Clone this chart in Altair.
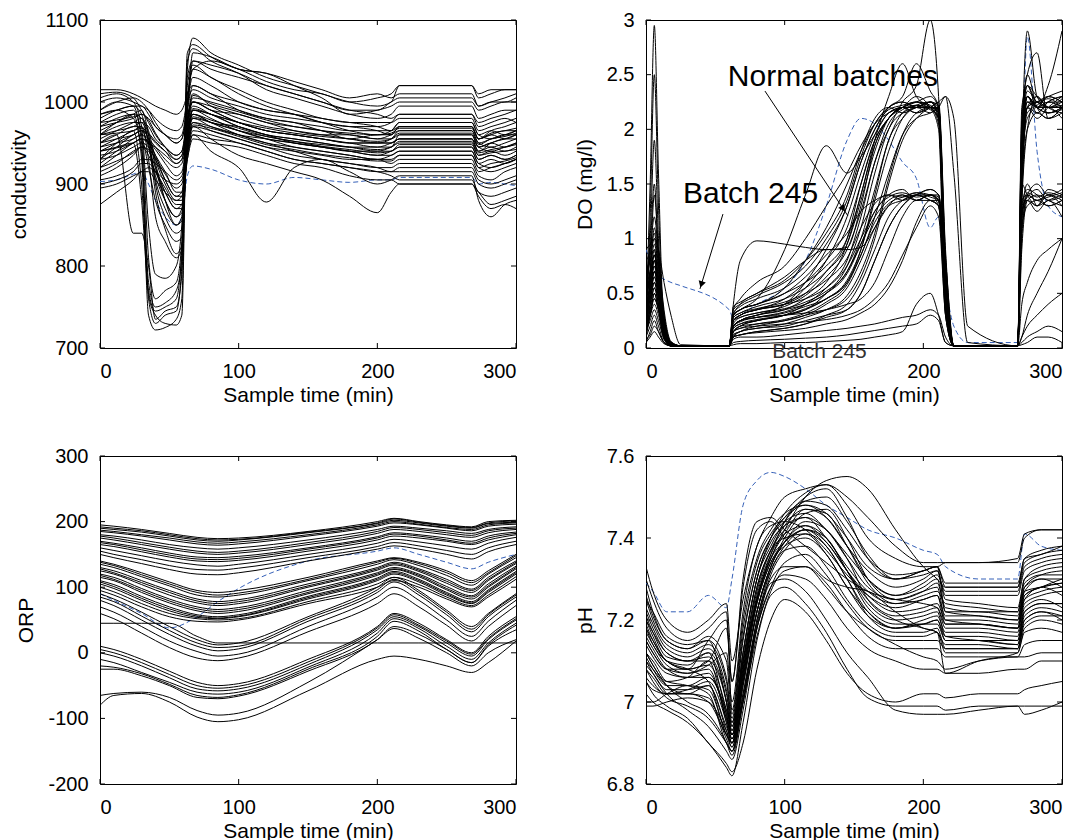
import altair as alt
import pandas as pd

FONT = "Liberation Sans"
PW, PH = 416, 328
X_TICKS = [0, 100, 200, 300]

# ---------------- conductivity ----------------
COND_T = [0, 12, 24, 30, 35, 40, 47, 55, 59, 63, 67, 80, 100, 120, 140, 160, 180, 200, 210, 216, 268, 273, 282, 292, 300]
COND_CURVES = [
    [960, 975, 985, 930, 740, 722, 725, 735, 760, 1040, 1078, 1060, 1045, 1030, 1020, 1010, 1000, 995, 1000, 1020, 1020, 1005, 1010, 1015, 1015],
    [990, 1000, 995, 950, 760, 730, 740, 745, 800, 1060, 1070, 1055, 1040, 1035, 1025, 1015, 1005, 1010, 1005, 1010, 1010, 995, 1000, 1005, 1010],
    [930, 950, 965, 900, 770, 745, 750, 760, 820, 1030, 1050, 1040, 1030, 1020, 1010, 1000, 990, 985, 980, 985, 985, 970, 975, 980, 975],
    [950, 960, 840, 840, 800, 735, 745, 750, 790, 1000, 1040, 1030, 1010, 995, 985, 975, 970, 965, 960, 970, 970, 955, 960, 955, 960],
    [975, 985, 990, 960, 810, 760, 770, 780, 830, 1010, 1020, 1010, 990, 980, 975, 965, 960, 955, 955, 960, 960, 945, 950, 945, 950],
    [1005, 1010, 1000, 970, 850, 790, 785, 800, 850, 990, 1030, 1020, 1000, 990, 985, 975, 965, 960, 965, 975, 975, 960, 955, 960, 965],
    [945, 955, 965, 970, 930, 860, 830, 810, 820, 960, 1000, 990, 975, 965, 960, 955, 950, 945, 950, 955, 955, 940, 945, 940, 945],
    [920, 935, 950, 955, 920, 880, 850, 830, 835, 950, 990, 985, 970, 960, 950, 945, 940, 935, 935, 940, 940, 925, 930, 925, 930],
    [965, 975, 985, 990, 960, 900, 860, 840, 845, 970, 1010, 995, 980, 970, 965, 960, 955, 950, 955, 965, 965, 950, 945, 950, 955],
    [940, 950, 960, 965, 945, 910, 880, 860, 870, 960, 980, 975, 965, 955, 945, 940, 935, 930, 930, 935, 935, 920, 915, 920, 925],
    [910, 920, 935, 945, 940, 920, 890, 870, 875, 945, 975, 970, 960, 950, 940, 930, 925, 920, 920, 925, 925, 910, 905, 915, 920],
    [980, 990, 995, 985, 950, 905, 870, 850, 860, 980, 1000, 990, 985, 975, 970, 965, 955, 960, 960, 970, 970, 955, 965, 970, 975],
    [955, 965, 975, 980, 965, 930, 900, 880, 880, 955, 990, 980, 965, 955, 950, 945, 940, 940, 945, 950, 950, 935, 940, 935, 940],
    [925, 940, 955, 960, 950, 935, 915, 890, 890, 940, 970, 965, 955, 945, 935, 930, 925, 920, 915, 920, 920, 905, 900, 905, 910],
    [900, 905, 915, 925, 925, 915, 895, 875, 875, 935, 960, 955, 950, 940, 930, 925, 920, 915, 910, 905, 905, 890, 885, 890, 895],
    [875, 890, 905, 915, 915, 905, 890, 880, 885, 930, 955, 950, 945, 935, 925, 920, 910, 905, 905, 900, 900, 885, 870, 875, 870],
    [1015, 1015, 1010, 1005, 1000, 995, 990, 985, 990, 1010, 1040, 1050, 1040, 1025, 1015, 1010, 1000, 1005, 1010, 1020, 1020, 1010, 1015, 1015, 1015],
    [985, 990, 995, 995, 985, 970, 960, 950, 955, 990, 1020, 1010, 1000, 990, 985, 980, 975, 975, 975, 980, 980, 965, 970, 975, 980],
    [960, 965, 970, 975, 970, 955, 945, 935, 940, 975, 1005, 1000, 990, 980, 975, 970, 965, 965, 965, 970, 970, 955, 960, 965, 965],
    [935, 940, 950, 955, 950, 945, 935, 925, 930, 960, 990, 985, 975, 965, 960, 955, 950, 950, 950, 955, 955, 945, 940, 945, 950],
    [950, 955, 960, 965, 960, 950, 940, 930, 935, 965, 985, 975, 970, 960, 955, 950, 945, 945, 945, 960, 960, 945, 950, 955, 955],
    [905, 910, 920, 930, 930, 925, 915, 905, 910, 950, 975, 965, 955, 945, 940, 935, 930, 930, 925, 930, 930, 915, 920, 925, 930],
    [895, 900, 910, 915, 920, 915, 905, 900, 905, 940, 965, 960, 950, 940, 930, 925, 920, 915, 915, 915, 915, 900, 895, 900, 905],
    [970, 975, 980, 985, 980, 970, 960, 950, 955, 985, 1000, 995, 985, 975, 965, 960, 960, 955, 960, 965, 965, 950, 955, 960, 960],
    [1000, 1005, 1000, 995, 990, 980, 970, 965, 970, 1000, 1015, 1005, 995, 985, 980, 975, 970, 970, 975, 985, 985, 975, 980, 985, 990],
    [945, 950, 955, 960, 955, 945, 930, 920, 925, 955, 980, 970, 960, 955, 950, 945, 940, 935, 940, 945, 945, 930, 935, 930, 935],
    [915, 925, 940, 945, 935, 915, 890, 870, 870, 930, 960, 940, 920, 878, 920, 930, 915, 900, 905, 910, 910, 880, 860, 875, 880],
    [930, 935, 945, 950, 945, 930, 905, 885, 885, 940, 970, 955, 935, 925, 915, 905, 885, 865, 890, 900, 900, 890, 875, 880, 885],
    [990, 1000, 1005, 1000, 990, 975, 960, 955, 960, 1000, 1060, 1055, 1040, 1035, 1020, 1005, 985, 990, 995, 1000, 1000, 990, 995, 1000, 1000],
    [1010, 1012, 1005, 990, 975, 960, 945, 935, 940, 990, 1050, 1045, 1035, 1020, 1010, 1000, 990, 990, 1000, 1005, 1005, 995, 1000, 1000, 1005],
    [985, 990, 980, 940, 780, 750, 755, 770, 810, 1050, 1065, 1050, 1035, 1015, 1005, 995, 985, 980, 985, 995, 995, 980, 985, 990, 990],
    [940, 945, 950, 880, 765, 740, 730, 728, 740, 1020, 1045, 1030, 1015, 1000, 990, 980, 975, 970, 965, 975, 975, 960, 965, 960, 965],
    [960, 970, 975, 975, 950, 890, 845, 815, 825, 965, 995, 985, 970, 960, 955, 950, 945, 940, 940, 945, 945, 930, 935, 930, 935],
    [930, 945, 960, 965, 955, 925, 880, 850, 855, 950, 985, 975, 960, 950, 945, 940, 935, 930, 935, 940, 940, 925, 920, 925, 930],
    [970, 980, 985, 980, 960, 920, 880, 860, 865, 975, 1000, 990, 975, 965, 960, 955, 950, 950, 950, 955, 955, 940, 950, 955, 960],
    [950, 960, 970, 970, 955, 935, 905, 885, 890, 960, 985, 978, 968, 958, 952, 948, 945, 942, 945, 952, 952, 938, 942, 945, 948],
    [960, 962, 965, 968, 962, 952, 940, 925, 930, 965, 992, 985, 975, 968, 962, 958, 955, 952, 955, 962, 962, 948, 955, 958, 962],
    [940, 944, 950, 955, 952, 942, 925, 910, 915, 955, 982, 975, 965, 958, 952, 946, 942, 938, 940, 948, 948, 935, 938, 940, 942],
    [975, 978, 982, 985, 978, 962, 945, 930, 935, 978, 1008, 998, 988, 978, 970, 965, 962, 960, 962, 968, 968, 955, 962, 965, 968],
    [920, 928, 938, 945, 942, 932, 912, 895, 900, 945, 972, 968, 958, 948, 942, 936, 932, 928, 928, 935, 935, 920, 925, 928, 932],
]
COND_245 = [903, 905, 912, 915, 900, 880, 860, 850, 860, 910, 922, 918, 905, 900, 908, 905, 902, 905, 905, 908, 908, 900, 902, 900, 898]
COND_TICKS = [700, 800, 900, 1000, 1100]

# ---------------- DO ----------------
DO_T = [0, 3, 6, 9, 13, 18, 25, 60, 63, 68, 80, 100, 115, 130, 145, 155, 165, 175, 185, 195, 205, 211, 216, 222, 232, 268, 271, 275, 282, 290, 300]
DO_CURVES = [
    [0.30, 1.50, 2.95, 1.60, 0.20, 0.03, 0.02, 0.02, 0.30, 0.35, 0.40, 0.55, 0.80, 1.10, 1.50, 1.80, 2.05, 2.20, 2.25, 2.20, 2.25, 2.10, 0.50, 0.02, 0.02, 0.02, 1.80, 2.90, 2.30, 2.20, 2.20],
    [0.20, 1.20, 2.50, 1.30, 0.15, 0.02, 0.02, 0.02, 0.25, 0.30, 0.35, 0.40, 0.55, 0.80, 1.20, 1.60, 1.95, 2.15, 2.20, 2.20, 2.25, 2.20, 0.40, 0.02, 0.02, 0.02, 2.00, 2.40, 2.30, 2.20, 2.15],
    [0.50, 1.00, 1.90, 1.00, 0.10, 0.02, 0.02, 0.02, 0.20, 0.25, 0.30, 0.35, 0.45, 0.60, 0.95, 1.40, 1.85, 2.10, 2.20, 2.20, 2.15, 2.20, 0.80, 0.02, 0.02, 0.02, 1.50, 2.20, 2.25, 2.30, 2.25],
    [0.40, 0.90, 1.50, 0.80, 0.10, 0.02, 0.02, 0.02, 0.15, 0.20, 0.25, 0.30, 0.35, 0.50, 0.75, 1.10, 1.60, 2.00, 2.15, 2.20, 2.25, 2.15, 0.60, 0.02, 0.02, 0.02, 1.90, 2.50, 2.20, 2.10, 2.20],
    [0.10, 0.70, 1.40, 0.90, 0.30, 0.05, 0.02, 0.02, 0.35, 0.45, 0.60, 0.75, 1.00, 1.30, 1.60, 1.85, 2.05, 2.15, 2.20, 2.25, 2.30, 2.20, 0.70, 0.02, 0.02, 0.02, 1.70, 2.30, 2.20, 2.25, 2.20],
    [0.60, 0.80, 1.00, 0.70, 0.25, 0.05, 0.02, 0.02, 0.40, 0.80, 0.98, 0.95, 0.92, 0.90, 0.92, 1.30, 1.85, 2.10, 2.20, 2.25, 2.20, 2.10, 0.50, 0.02, 0.02, 0.02, 1.60, 2.10, 2.20, 2.20, 2.10],
    [0.30, 0.60, 0.90, 0.60, 0.20, 0.03, 0.02, 0.02, 0.30, 0.35, 0.45, 0.90, 1.40, 1.85, 1.60, 1.75, 1.95, 2.15, 2.20, 2.15, 2.20, 2.25, 0.90, 0.02, 0.02, 0.02, 1.40, 2.00, 2.15, 2.10, 2.15],
    [0.20, 0.50, 0.80, 0.50, 0.15, 0.02, 0.02, 0.02, 0.20, 0.25, 0.30, 0.40, 0.60, 0.90, 1.30, 1.70, 2.00, 2.20, 2.30, 2.60, 2.35, 2.20, 0.60, 0.02, 0.02, 0.02, 2.20, 2.40, 2.20, 2.30, 2.25],
    [0.10, 0.40, 0.70, 0.50, 0.10, 0.02, 0.02, 0.02, 0.15, 0.20, 0.25, 0.30, 0.40, 0.55, 0.80, 1.20, 1.70, 2.00, 2.25, 2.40, 3.00, 2.30, 0.70, 0.02, 0.02, 0.02, 1.80, 2.30, 2.20, 2.40, 2.90],
    [0.70, 0.80, 0.90, 0.60, 0.20, 0.02, 0.02, 0.02, 0.25, 0.30, 0.35, 0.40, 0.50, 0.70, 1.00, 1.50, 1.90, 2.10, 2.20, 2.30, 2.20, 2.00, 0.30, 0.02, 0.02, 0.02, 1.50, 2.20, 2.10, 2.20, 2.30],
    [0.25, 0.45, 0.60, 0.45, 0.20, 0.04, 0.02, 0.02, 0.20, 0.25, 0.28, 0.32, 0.38, 0.45, 0.60, 0.90, 1.40, 1.90, 2.10, 2.20, 2.20, 2.15, 0.50, 0.02, 0.02, 0.02, 1.70, 2.25, 2.25, 2.15, 2.20],
    [0.15, 0.35, 0.55, 0.40, 0.15, 0.03, 0.02, 0.02, 0.10, 0.15, 0.20, 0.25, 0.30, 0.35, 0.45, 0.65, 1.00, 1.50, 1.90, 2.10, 2.20, 2.25, 2.30, 1.60, 0.05, 0.02, 1.30, 2.00, 2.30, 2.20, 2.20],
    [0.30, 0.50, 0.70, 0.50, 0.15, 0.02, 0.02, 0.02, 0.20, 0.25, 0.30, 0.35, 0.40, 0.50, 0.70, 0.95, 1.20, 1.35, 1.40, 1.35, 1.40, 1.35, 0.40, 0.02, 0.02, 0.02, 1.00, 1.40, 1.35, 1.40, 1.35],
    [0.20, 0.40, 0.60, 0.40, 0.10, 0.02, 0.02, 0.02, 0.15, 0.20, 0.22, 0.25, 0.30, 0.40, 0.55, 0.80, 1.10, 1.30, 1.35, 1.40, 1.35, 1.30, 0.30, 0.02, 0.02, 0.02, 1.20, 1.50, 1.30, 1.35, 1.40],
    [0.50, 0.60, 0.80, 0.55, 0.20, 0.03, 0.02, 0.02, 0.30, 0.35, 0.40, 0.50, 0.65, 0.85, 1.05, 1.25, 1.35, 1.40, 1.35, 1.40, 1.45, 1.40, 0.50, 0.02, 0.02, 0.02, 1.30, 1.45, 1.40, 1.30, 1.35],
    [0.10, 0.30, 0.50, 0.35, 0.10, 0.02, 0.02, 0.02, 0.10, 0.12, 0.15, 0.18, 0.22, 0.30, 0.40, 0.60, 0.90, 1.20, 1.35, 1.40, 1.35, 1.30, 0.60, 0.02, 0.02, 0.02, 0.90, 1.35, 1.40, 1.35, 1.30],
    [0.35, 0.55, 0.75, 0.50, 0.15, 0.02, 0.02, 0.02, 0.25, 0.30, 0.35, 0.40, 0.45, 0.55, 0.75, 1.00, 1.25, 1.40, 1.45, 1.35, 1.40, 1.40, 0.70, 0.02, 0.02, 0.02, 1.50, 1.40, 1.30, 1.45, 1.40],
    [0.45, 0.65, 0.85, 0.60, 0.20, 0.03, 0.02, 0.02, 0.30, 0.40, 0.50, 0.65, 0.80, 0.90, 0.90, 0.92, 1.10, 1.30, 1.40, 1.35, 1.40, 1.35, 0.40, 0.02, 0.02, 0.02, 1.10, 1.35, 1.25, 1.35, 1.20],
    [0.15, 0.30, 0.45, 0.35, 0.10, 0.02, 0.02, 0.02, 0.12, 0.15, 0.18, 0.20, 0.25, 0.30, 0.35, 0.50, 0.80, 1.10, 1.30, 1.40, 1.45, 1.40, 0.80, 0.02, 0.02, 0.02, 1.20, 1.40, 1.50, 1.40, 1.45],
    [0.10, 0.20, 0.30, 0.20, 0.05, 0.02, 0.02, 0.02, 0.08, 0.10, 0.10, 0.12, 0.14, 0.16, 0.18, 0.20, 0.22, 0.25, 0.28, 0.30, 0.35, 0.30, 0.10, 0.02, 0.02, 0.02, 0.10, 0.20, 0.30, 0.40, 0.50],
    [0.05, 0.15, 0.25, 0.15, 0.05, 0.02, 0.02, 0.02, 0.05, 0.06, 0.07, 0.08, 0.09, 0.10, 0.12, 0.14, 0.16, 0.18, 0.20, 0.22, 0.30, 0.25, 0.05, 0.02, 0.02, 0.02, 0.05, 0.10, 0.15, 0.20, 0.15],
    [0.20, 0.30, 0.40, 0.30, 0.08, 0.02, 0.02, 0.02, 0.15, 0.18, 0.20, 0.22, 0.24, 0.26, 0.30, 0.35, 0.45, 0.60, 0.85, 1.10, 1.30, 1.20, 0.30, 0.02, 0.02, 0.02, 0.40, 0.60, 0.80, 0.90, 1.00],
    [0.08, 0.12, 0.20, 0.15, 0.05, 0.02, 0.02, 0.02, 0.03, 0.04, 0.04, 0.05, 0.05, 0.06, 0.07, 0.08, 0.10, 0.12, 0.15, 0.40, 0.50, 0.30, 0.05, 0.02, 0.02, 0.02, 0.03, 0.05, 0.10, 0.10, 0.05],
    [0.35, 0.55, 0.75, 0.55, 0.20, 0.03, 0.02, 0.02, 0.30, 0.35, 0.40, 0.50, 0.60, 0.75, 1.00, 1.40, 1.90, 2.30, 2.60, 2.30, 2.20, 2.10, 0.70, 0.02, 0.02, 0.02, 1.90, 2.40, 2.25, 2.30, 2.35],
    [0.90, 0.95, 1.00, 0.90, 0.60, 0.30, 0.03, 0.02, 0.25, 0.30, 0.35, 0.45, 0.60, 0.80, 1.10, 1.50, 1.90, 2.10, 2.20, 2.15, 2.20, 2.15, 0.60, 0.02, 0.02, 0.02, 1.40, 2.20, 2.15, 2.25, 2.30],
    [0.25, 0.40, 0.55, 0.40, 0.15, 0.03, 0.02, 0.02, 0.18, 0.22, 0.25, 0.30, 0.35, 0.45, 0.60, 0.85, 1.20, 1.60, 1.95, 2.10, 2.15, 2.20, 2.30, 2.10, 0.20, 0.02, 1.60, 2.30, 2.20, 2.15, 2.20],
    [0.15, 0.25, 0.35, 0.25, 0.08, 0.02, 0.02, 0.02, 0.20, 0.25, 0.28, 0.30, 0.32, 0.35, 0.40, 0.45, 0.60, 0.90, 1.20, 1.35, 1.35, 1.30, 0.50, 0.02, 0.02, 0.02, 1.30, 1.35, 1.30, 1.40, 1.30],
    [0.55, 0.70, 0.85, 0.65, 0.25, 0.04, 0.02, 0.02, 0.35, 0.40, 0.48, 0.60, 0.75, 1.00, 1.35, 1.75, 2.05, 2.20, 2.25, 2.20, 2.20, 2.05, 0.40, 0.02, 0.02, 0.02, 1.80, 2.20, 2.30, 2.20, 2.25],
    [0.05, 0.10, 0.15, 0.10, 0.04, 0.02, 0.02, 0.02, 0.10, 0.12, 0.15, 0.18, 0.22, 0.28, 0.35, 0.50, 0.80, 1.10, 1.30, 1.40, 1.40, 1.30, 0.40, 0.02, 0.02, 0.02, 0.10, 0.30, 0.50, 0.70, 1.00],
    [0.40, 0.70, 1.10, 0.80, 0.30, 0.05, 0.02, 0.02, 0.28, 0.32, 0.38, 0.45, 0.55, 0.70, 0.95, 1.35, 1.80, 2.10, 2.20, 2.25, 2.20, 2.20, 0.60, 0.02, 0.02, 0.02, 2.10, 2.50, 2.70, 2.10, 2.20],
    [0.65, 0.85, 1.05, 0.75, 0.30, 0.05, 0.02, 0.02, 0.32, 0.38, 0.45, 0.55, 0.70, 0.95, 1.30, 1.70, 2.00, 2.18, 2.22, 2.25, 2.22, 2.12, 0.55, 0.02, 0.02, 0.02, 1.75, 2.25, 2.20, 2.25, 2.25],
    [0.45, 0.70, 0.95, 0.70, 0.25, 0.04, 0.02, 0.02, 0.22, 0.28, 0.32, 0.38, 0.48, 0.65, 0.90, 1.25, 1.70, 2.05, 2.18, 2.22, 2.20, 2.18, 0.65, 0.02, 0.02, 0.02, 1.85, 2.35, 2.25, 2.20, 2.28],
    [0.35, 0.60, 0.85, 0.60, 0.20, 0.03, 0.02, 0.02, 0.20, 0.24, 0.28, 0.33, 0.40, 0.50, 0.68, 0.95, 1.25, 1.38, 1.42, 1.38, 1.40, 1.38, 0.45, 0.02, 0.02, 0.02, 1.15, 1.42, 1.38, 1.42, 1.38],
    [0.25, 0.45, 0.65, 0.45, 0.12, 0.02, 0.02, 0.02, 0.15, 0.18, 0.22, 0.26, 0.32, 0.42, 0.58, 0.85, 1.15, 1.32, 1.38, 1.42, 1.38, 1.35, 0.55, 0.02, 0.02, 0.02, 1.25, 1.38, 1.45, 1.35, 1.38],
    [0.80, 0.90, 1.20, 0.85, 0.35, 0.06, 0.02, 0.02, 0.38, 0.42, 0.50, 0.62, 0.80, 1.05, 1.40, 1.80, 2.10, 2.20, 2.15, 2.20, 2.25, 2.15, 0.45, 0.02, 0.02, 0.02, 1.95, 2.30, 2.20, 2.15, 2.18],
    [0.15, 0.30, 0.50, 0.35, 0.10, 0.02, 0.02, 0.02, 0.12, 0.15, 0.18, 0.22, 0.28, 0.35, 0.48, 0.70, 1.05, 1.55, 1.95, 2.15, 2.20, 2.20, 0.75, 0.02, 0.02, 0.02, 1.65, 2.20, 2.25, 2.20, 2.22],
    [0.50, 0.65, 0.80, 0.60, 0.22, 0.03, 0.02, 0.02, 0.28, 0.32, 0.36, 0.42, 0.50, 0.62, 0.82, 1.10, 1.32, 1.40, 1.38, 1.42, 1.40, 1.36, 0.35, 0.02, 0.02, 0.02, 1.35, 1.40, 1.35, 1.38, 1.42],
    [0.30, 0.50, 0.65, 0.50, 0.18, 0.03, 0.02, 0.02, 0.18, 0.22, 0.26, 0.30, 0.36, 0.45, 0.62, 0.90, 1.35, 1.80, 2.10, 2.22, 2.25, 2.22, 0.85, 0.02, 0.02, 0.02, 1.55, 2.15, 2.22, 2.28, 2.20],
    [0.20, 0.35, 0.45, 0.35, 0.12, 0.02, 0.02, 0.02, 0.10, 0.12, 0.14, 0.16, 0.18, 0.22, 0.26, 0.32, 0.40, 0.55, 0.80, 1.15, 1.35, 1.35, 0.65, 0.02, 0.02, 0.02, 1.10, 1.30, 1.35, 1.30, 1.35],
    [0.40, 0.55, 0.70, 0.55, 0.20, 0.03, 0.02, 0.02, 0.25, 0.28, 0.32, 0.36, 0.42, 0.52, 0.70, 1.00, 1.45, 1.90, 2.15, 2.22, 2.18, 2.10, 0.50, 0.02, 0.02, 0.02, 2.05, 2.30, 2.15, 2.25, 2.30],
]
DO_245 = [0.90, 0.80, 0.70, 0.66, 0.63, 0.60, 0.57, 0.35, 0.27, 0.30, 0.40, 0.55, 0.80, 1.30, 1.90, 2.10, 2.05, 1.90, 1.70, 1.55, 1.10, 1.20, 0.60, 0.20, 0.05, 0.05, 1.50, 2.85, 1.80, 1.30, 1.20]
DO_TICKS = [0, 0.5, 1, 1.5, 2, 2.5, 3]

# annotations of the DO panel
DO_LABELS = ["Normal batches", "Batch 245", "Batch 245"]
DO_LABEL_T = [59, 26.7, 91]
DO_LABEL_V = [2.40, 1.33, -0.09]
DO_LABEL_SIZE = [30, 30, 21]
DO_LABEL_COLOR = ["black", "black", "#333333"]
ARROW_T0 = [85.8, 55.5]
ARROW_V0 = [2.35, 1.225]
ARROW_T1 = [145.7, 38.9]
ARROW_V1 = [1.207, 0.54]
ARROW_ANGLE = [146, 197]

# ---------------- ORP ----------------
ORP_T = [0, 10, 30, 50, 70, 85, 100, 150, 200, 212, 230, 250, 268, 280, 300]
ORP_CURVES = [
    [195, 193, 188, 182, 176, 174, 175, 185, 200, 205, 200, 195, 192, 200, 202],
    [190, 188, 184, 178, 172, 170, 172, 183, 197, 202, 198, 193, 190, 197, 199],
    [185, 183, 178, 172, 166, 164, 166, 178, 193, 198, 195, 190, 186, 193, 196],
    [180, 178, 172, 165, 160, 158, 160, 172, 188, 193, 190, 186, 182, 188, 192],
    [175, 172, 165, 158, 152, 150, 152, 165, 182, 188, 185, 180, 176, 183, 188],
    [170, 167, 160, 152, 146, 145, 147, 160, 177, 183, 180, 175, 170, 178, 184],
    [165, 162, 154, 146, 140, 139, 141, 155, 172, 178, 175, 170, 165, 172, 180],
    [160, 156, 148, 140, 134, 132, 135, 150, 167, 173, 169, 163, 158, 167, 176],
    [155, 150, 142, 133, 127, 126, 129, 145, 162, 168, 163, 156, 150, 160, 170],
    [150, 145, 136, 127, 120, 119, 122, 140, 158, 163, 158, 150, 143, 154, 165],
    [140, 135, 122, 108, 95, 92, 95, 115, 140, 145, 138, 125, 110, 125, 150],
    [135, 130, 116, 102, 88, 85, 88, 110, 135, 142, 133, 118, 103, 120, 145],
    [130, 125, 110, 95, 82, 78, 81, 105, 130, 138, 128, 112, 97, 115, 140],
    [125, 120, 104, 88, 76, 72, 75, 100, 126, 134, 124, 106, 92, 110, 136],
    [120, 115, 98, 82, 70, 66, 69, 95, 122, 130, 120, 101, 87, 105, 132],
    [115, 110, 92, 76, 64, 60, 63, 90, 118, 127, 116, 96, 82, 100, 128],
    [110, 104, 86, 70, 58, 55, 58, 86, 114, 124, 112, 92, 78, 96, 124],
    [105, 98, 80, 64, 54, 52, 55, 82, 110, 120, 108, 88, 75, 92, 120],
    [100, 93, 75, 60, 52, 50, 52, 78, 105, 115, 104, 85, 72, 88, 116],
    [95, 88, 70, 55, 48, 47, 50, 75, 100, 110, 100, 82, 70, 85, 112],
    [90, 82, 62, 40, 20, 12, 15, 55, 100, 115, 95, 65, 40, 60, 90],
    [80, 72, 50, 28, 10, 3, 6, 48, 92, 108, 88, 58, 32, 55, 85],
    [70, 62, 40, 18, 2, -5, -2, 40, 85, 100, 80, 50, 25, 48, 80],
    [60, 52, 30, 8, -8, -12, -8, 32, 75, 90, 70, 42, 18, 40, 72],
    [45, 45, 45, 45, 25, 15, 15, 15, 15, 15, 15, 15, 15, 15, 15],
    [10, 5, -10, -28, -45, -50, -47, -10, 40, 60, 45, 20, 0, 25, 55],
    [0, -5, -20, -38, -55, -58, -55, -18, 35, 55, 40, 15, -5, 20, 50],
    [-10, -15, -30, -45, -60, -63, -60, -22, 30, 52, 37, 10, -10, 15, 45],
    [-20, -22, -32, -48, -65, -68, -64, -25, 25, 48, 33, 5, -15, 12, 42],
    [-25, -25, -35, -50, -68, -70, -66, -28, 20, 40, 28, 5, -15, 10, 35],
    [-65, -62, -60, -68, -88, -95, -92, -45, 20, 37, 22, 0, -20, 0, 20],
    [-80, -65, -62, -75, -98, -105, -102, -58, -10, -5, -10, -20, -30, -15, 18],
    [192, 190, 186, 180, 174, 172, 173, 184, 198, 204, 199, 194, 191, 198, 201],
    [187, 185, 180, 175, 169, 167, 169, 180, 195, 200, 196, 191, 188, 195, 198],
    [178, 175, 168, 161, 155, 153, 155, 168, 185, 191, 188, 183, 179, 186, 190],
    [168, 165, 157, 149, 143, 142, 144, 158, 175, 181, 178, 172, 167, 175, 182],
    [138, 133, 119, 105, 92, 88, 91, 112, 138, 144, 136, 122, 107, 122, 148],
    [128, 122, 107, 92, 79, 75, 78, 102, 128, 136, 126, 109, 95, 112, 138],
    [118, 112, 95, 79, 67, 63, 66, 92, 120, 128, 118, 98, 85, 102, 130],
    [108, 101, 83, 67, 56, 53, 56, 84, 112, 122, 110, 90, 76, 94, 122],
    [85, 78, 56, 34, 15, 8, 10, 52, 96, 112, 92, 62, 36, 58, 88],
    [5, 0, -15, -33, -50, -54, -51, -14, 38, 58, 42, 18, -2, 22, 52],
]
ORP_245 = [90, 80, 60, 38, 55, 78, 98, 140, 155, 160, 150, 138, 128, 138, 150]
ORP_TICKS = [-200, -100, 0, 100, 200, 300]

# ---------------- pH ----------------
PH_T = [0, 5, 15, 30, 45, 58, 62, 70, 80, 90, 100, 115, 130, 145, 160, 180, 200, 210, 216, 240, 268, 273, 285, 300]
PH_CURVES = [
    [7.20, 7.17, 7.12, 7.10, 7.12, 6.98, 6.95, 7.10, 7.25, 7.35, 7.42, 7.50, 7.54, 7.55, 7.52, 7.42, 7.33, 7.30, 7.28, 7.28, 7.28, 7.35, 7.36, 7.38],
    [7.25, 7.22, 7.16, 7.14, 7.15, 7.00, 6.93, 7.12, 7.30, 7.40, 7.46, 7.51, 7.53, 7.48, 7.40, 7.35, 7.33, 7.33, 7.34, 7.34, 7.34, 7.40, 7.42, 7.42],
    [7.15, 7.12, 7.08, 7.08, 7.15, 7.20, 7.05, 7.30, 7.44, 7.45, 7.42, 7.38, 7.34, 7.30, 7.27, 7.25, 7.24, 7.23, 7.18, 7.18, 7.17, 7.25, 7.27, 7.28],
    [7.30, 7.25, 7.18, 7.15, 7.18, 7.22, 6.98, 7.20, 7.35, 7.42, 7.46, 7.48, 7.45, 7.38, 7.32, 7.28, 7.30, 7.32, 7.25, 7.24, 7.23, 7.30, 7.32, 7.33],
    [7.22, 7.18, 7.12, 7.10, 7.10, 6.95, 6.90, 7.08, 7.25, 7.36, 7.44, 7.50, 7.52, 7.45, 7.35, 7.30, 7.32, 7.33, 7.22, 7.21, 7.20, 7.28, 7.30, 7.30],
    [7.18, 7.15, 7.10, 7.08, 7.05, 6.92, 6.90, 7.05, 7.22, 7.33, 7.40, 7.46, 7.47, 7.40, 7.30, 7.25, 7.27, 7.28, 7.20, 7.19, 7.18, 7.25, 7.28, 7.26],
    [7.12, 7.10, 7.05, 7.04, 7.02, 6.90, 6.88, 7.02, 7.20, 7.32, 7.38, 7.42, 7.40, 7.32, 7.24, 7.20, 7.21, 7.22, 7.16, 7.15, 7.14, 7.22, 7.24, 7.24],
    [7.08, 7.06, 7.02, 7.02, 7.00, 6.92, 6.90, 7.04, 7.22, 7.33, 7.39, 7.44, 7.42, 7.35, 7.25, 7.20, 7.18, 7.17, 7.14, 7.14, 7.13, 7.20, 7.22, 7.20],
    [7.25, 7.20, 7.14, 7.12, 7.14, 7.05, 6.95, 7.15, 7.32, 7.40, 7.44, 7.46, 7.42, 7.36, 7.30, 7.26, 7.29, 7.31, 7.27, 7.27, 7.27, 7.33, 7.35, 7.36],
    [7.15, 7.12, 7.08, 7.07, 7.08, 6.96, 6.92, 7.08, 7.26, 7.36, 7.41, 7.43, 7.39, 7.32, 7.26, 7.22, 7.23, 7.24, 7.20, 7.20, 7.19, 7.27, 7.28, 7.29],
    [7.10, 7.08, 7.04, 7.02, 7.04, 6.94, 6.91, 7.06, 7.24, 7.34, 7.38, 7.40, 7.36, 7.28, 7.22, 7.18, 7.19, 7.19, 7.15, 7.15, 7.15, 7.23, 7.25, 7.23],
    [7.05, 7.03, 7.02, 7.03, 7.05, 6.95, 6.90, 7.05, 7.22, 7.32, 7.37, 7.38, 7.33, 7.25, 7.19, 7.16, 7.16, 7.17, 7.12, 7.12, 7.12, 7.18, 7.20, 7.19],
    [7.20, 7.16, 7.10, 7.09, 7.12, 7.02, 6.94, 7.12, 7.30, 7.39, 7.43, 7.45, 7.40, 7.33, 7.27, 7.24, 7.26, 7.27, 7.24, 7.23, 7.22, 7.30, 7.33, 7.34],
    [7.28, 7.22, 7.15, 7.13, 7.16, 7.10, 6.97, 7.18, 7.34, 7.41, 7.45, 7.48, 7.46, 7.40, 7.33, 7.30, 7.32, 7.33, 7.29, 7.29, 7.29, 7.35, 7.37, 7.38],
    [7.12, 7.09, 7.05, 7.06, 7.10, 7.00, 6.93, 7.10, 7.28, 7.37, 7.40, 7.41, 7.36, 7.28, 7.21, 7.18, 7.20, 7.21, 7.17, 7.17, 7.16, 7.24, 7.26, 7.27],
    [7.00, 7.00, 7.02, 7.04, 7.03, 6.92, 6.89, 7.02, 7.18, 7.28, 7.34, 7.36, 7.31, 7.24, 7.18, 7.15, 7.15, 7.15, 7.13, 7.13, 7.13, 7.20, 7.22, 7.21],
    [7.02, 7.00, 6.98, 6.95, 6.90, 6.84, 6.82, 6.95, 7.15, 7.26, 7.28, 7.24, 7.17, 7.08, 7.01, 6.99, 6.99, 6.99, 6.98, 6.99, 6.99, 6.99, 6.99, 6.99],
    [7.05, 7.02, 6.99, 6.96, 6.90, 6.85, 6.83, 6.90, 7.08, 7.20, 7.25, 7.22, 7.15, 7.07, 7.02, 7.00, 7.02, 7.02, 7.01, 7.02, 7.02, 7.03, 7.04, 7.05],
    [7.10, 7.07, 7.02, 6.98, 6.94, 6.88, 6.86, 6.98, 7.18, 7.29, 7.30, 7.27, 7.20, 7.12, 7.06, 6.98, 6.97, 6.97, 6.97, 6.98, 6.99, 6.97, 6.98, 7.00],
    [7.08, 7.05, 7.01, 6.99, 6.96, 6.90, 6.88, 7.00, 7.18, 7.28, 7.31, 7.30, 7.25, 7.18, 7.13, 7.10, 7.08, 7.08, 7.07, 7.07, 7.08, 7.08, 7.10, 7.10],
    [7.12, 7.09, 7.04, 7.00, 6.97, 6.90, 6.87, 7.00, 7.20, 7.30, 7.33, 7.33, 7.28, 7.22, 7.18, 7.14, 7.11, 7.10, 7.08, 7.10, 7.11, 7.11, 7.12, 7.12],
    [7.18, 7.14, 7.10, 7.08, 7.10, 7.18, 7.05, 7.28, 7.42, 7.44, 7.40, 7.35, 7.30, 7.28, 7.27, 7.22, 7.18, 7.17, 7.07, 7.10, 7.12, 7.17, 7.18, 7.17],
    [7.33, 7.27, 7.20, 7.17, 7.20, 7.24, 7.10, 7.25, 7.38, 7.45, 7.50, 7.52, 7.53, 7.50, 7.45, 7.38, 7.34, 7.34, 7.34, 7.34, 7.35, 7.41, 7.42, 7.42],
    [6.99, 6.99, 7.00, 7.01, 7.00, 6.93, 6.90, 7.00, 7.16, 7.27, 7.32, 7.33, 7.29, 7.22, 7.16, 7.13, 7.13, 7.13, 7.11, 7.11, 7.11, 7.14, 7.15, 7.15],
    [7.16, 7.13, 7.08, 7.06, 7.06, 6.97, 6.91, 7.06, 7.24, 7.34, 7.39, 7.42, 7.39, 7.32, 7.25, 7.21, 7.22, 7.23, 7.19, 7.19, 7.18, 7.26, 7.28, 7.30],
    [7.21, 7.17, 7.11, 7.10, 7.11, 7.00, 6.92, 7.10, 7.28, 7.37, 7.42, 7.45, 7.42, 7.35, 7.28, 7.25, 7.27, 7.29, 7.23, 7.22, 7.22, 7.29, 7.31, 7.31],
    [7.23, 7.19, 7.13, 7.11, 7.13, 7.03, 6.94, 7.12, 7.30, 7.38, 7.44, 7.49, 7.50, 7.44, 7.36, 7.30, 7.31, 7.32, 7.26, 7.26, 7.26, 7.32, 7.34, 7.35],
    [7.14, 7.11, 7.07, 7.06, 7.07, 6.96, 6.91, 7.07, 7.25, 7.35, 7.41, 7.47, 7.46, 7.38, 7.29, 7.24, 7.25, 7.26, 7.21, 7.21, 7.20, 7.27, 7.30, 7.28],
    [7.09, 7.07, 7.03, 7.03, 7.04, 6.93, 6.89, 7.04, 7.22, 7.33, 7.39, 7.43, 7.40, 7.32, 7.23, 7.19, 7.19, 7.20, 7.15, 7.15, 7.14, 7.21, 7.23, 7.22],
    [7.19, 7.15, 7.10, 7.08, 7.09, 6.98, 6.92, 7.09, 7.27, 7.37, 7.43, 7.47, 7.45, 7.38, 7.30, 7.26, 7.28, 7.30, 7.22, 7.22, 7.21, 7.28, 7.31, 7.32],
    [7.26, 7.21, 7.15, 7.13, 7.15, 7.06, 6.96, 7.16, 7.32, 7.40, 7.45, 7.49, 7.48, 7.42, 7.35, 7.31, 7.32, 7.33, 7.28, 7.28, 7.28, 7.34, 7.36, 7.37],
    [7.11, 7.08, 7.04, 7.04, 7.06, 6.97, 6.92, 7.07, 7.25, 7.35, 7.39, 7.42, 7.38, 7.30, 7.22, 7.18, 7.19, 7.20, 7.16, 7.16, 7.15, 7.22, 7.24, 7.24],
    [7.17, 7.14, 7.09, 7.07, 7.09, 7.12, 7.00, 7.22, 7.38, 7.43, 7.44, 7.42, 7.37, 7.31, 7.26, 7.23, 7.25, 7.26, 7.19, 7.19, 7.18, 7.26, 7.28, 7.29],
    [7.06, 7.04, 7.02, 7.02, 7.01, 6.91, 6.88, 7.01, 7.19, 7.31, 7.37, 7.41, 7.38, 7.30, 7.21, 7.17, 7.17, 7.18, 7.13, 7.13, 7.13, 7.19, 7.21, 7.21],
]
PH_245 = [7.29, 7.27, 7.22, 7.22, 7.26, 7.23, 7.30, 7.48, 7.54, 7.56, 7.55, 7.52, 7.48, 7.45, 7.42, 7.40, 7.37, 7.36, 7.33, 7.30, 7.30, 7.41, 7.38, 7.37]
PH_TICKS = [6.8, 7.0, 7.2, 7.4, 7.6]

LABEL_EXPR = "replace(format(datum.value, '~g'), '\u2212', '-')"
BLUE = "#3560b8"


def long_df(times, curves):
    rows = []
    for i, c in enumerate(curves):
        for t, v in zip(times, c):
            rows.append({"t": t, "v": v, "id": i})
    return pd.DataFrame(rows)


def x_enc(field="t"):
    return alt.X(f"{field}:Q", scale=alt.Scale(domain=[0, 300], nice=False, zero=False),
                 axis=alt.Axis(values=X_TICKS, title="Sample time (min)", labelExpr=LABEL_EXPR))


def y_enc(field, dom, ticks, title, tpad):
    return alt.Y(f"{field}:Q", scale=alt.Scale(domain=dom, nice=False, zero=False),
                 axis=alt.Axis(values=ticks, title=title, titlePadding=tpad, labelExpr=LABEL_EXPR))


def panel(times, curves, b245, dom, ticks, title, tpad, extra=None, over=None):
    X = x_enc()
    Y = y_enc("v", dom, ticks, title, tpad)
    blue = alt.Chart(pd.DataFrame({"t": times, "v": b245})).mark_line(
        color=BLUE, strokeWidth=1, strokeDash=[5, 3], clip=True, interpolate="monotone").encode(x=X, y=Y)
    lines = alt.Chart(long_df(times, curves)).mark_line(
        color="black", strokeWidth=1, clip=True, interpolate="monotone").encode(x=X, y=Y, detail="id:N")
    xt = pd.DataFrame({"t": X_TICKS})
    yt = pd.DataFrame({"v": ticks})
    tb = alt.Chart(xt).mark_rule(color="black").encode(x=X, y=alt.value(PH), y2=alt.value(PH - 5))
    tt = alt.Chart(xt).mark_rule(color="black").encode(x=X, y=alt.value(0), y2=alt.value(5))
    tl = alt.Chart(yt).mark_rule(color="black").encode(y=Y, x=alt.value(0), x2=alt.value(5))
    tr = alt.Chart(yt).mark_rule(color="black").encode(y=Y, x=alt.value(PW), x2=alt.value(PW - 5))
    layers = []
    if extra is not None:
        layers += extra(X, Y)
    layers += [blue, lines, tb, tt, tl, tr]
    if over is not None:
        layers += over(X, Y)
    return alt.layer(*layers).properties(width=PW, height=PH)


def do_under(X, Y):
    low = pd.DataFrame({"t": [DO_LABEL_T[2]], "v": [DO_LABEL_V[2]], "lab": [DO_LABELS[2]]})
    low_txt = alt.Chart(low).mark_text(font=FONT, fontSize=DO_LABEL_SIZE[2], align="left",
                                       baseline="alphabetic", color=DO_LABEL_COLOR[2]).encode(
        x=X, y=Y, text="lab:N")
    return [low_txt]


def do_over(X, Y):
    big = pd.DataFrame({"t": DO_LABEL_T[:2], "v": DO_LABEL_V[:2], "lab": DO_LABELS[:2]})
    txt = alt.Chart(big).mark_text(font=FONT, fontSize=DO_LABEL_SIZE[0], align="left",
                                   baseline="alphabetic", color="black").encode(x=X, y=Y, text="lab:N")
    arr = pd.DataFrame({"t": ARROW_T0, "v": ARROW_V0, "t2": ARROW_T1, "v2": ARROW_V1})
    shaft = alt.Chart(arr).mark_rule(color="black", strokeWidth=1).encode(
        x=X, y=Y, x2=alt.X2("t2:Q"), y2=alt.Y2("v2:Q"))
    heads = pd.DataFrame({
        "t": [b - 0.06 * (b - a) for a, b in zip(ARROW_T0, ARROW_T1)],
        "v": [b - 0.06 * (b - a) for a, b in zip(ARROW_V0, ARROW_V1)],
        "ang": ARROW_ANGLE,
    })
    head = alt.Chart(heads).mark_point(shape="triangle-up", filled=True, color="black",
                                       size=55, opacity=1).encode(
        x=X, y=Y, angle=alt.Angle("ang:Q", scale=None))
    return [txt, shaft, head]


p_cond = panel(COND_T, COND_CURVES, COND_245, [700, 1100], COND_TICKS, "conductivity", 14)
p_do = panel(DO_T, DO_CURVES, DO_245, [0, 3], DO_TICKS, "DO (mg/l)", 11, extra=do_under, over=do_over)
p_orp = panel(ORP_T, ORP_CURVES, ORP_245, [-200, 300], ORP_TICKS, "ORP", 11)
p_ph = panel(PH_T, PH_CURVES, PH_245, [6.8, 7.6], PH_TICKS, "pH", 11)

chart = alt.concat(
    p_cond, p_do, p_orp, p_ph, columns=2,
    spacing=alt.RowColnumber(row=108, column=130), bounds="flush",
).properties(
    padding={"left": 0, "top": 1, "right": 0, "bottom": 0},
    background="white",
).configure_view(
    stroke="black", strokeWidth=1
).configure_axis(
    labelFont=FONT, titleFont=FONT, labelFontSize=20, titleFontSize=21,
    labelColor="black", titleColor="black", titleFontWeight="normal",
    domain=False, ticks=False, tickSize=0, grid=False,
).configure_axisX(
    labelPadding=13, titlePadding=3
).configure_axisY(
    labelPadding=12
)

chart.save("out.html", embed_options={"renderer": "svg", "actions": False})
